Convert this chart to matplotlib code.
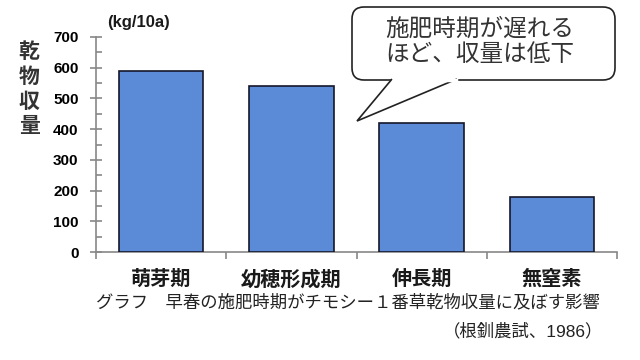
import matplotlib
matplotlib.use("Agg")
import matplotlib.pyplot as plt
from matplotlib.patches import FancyBboxPatch, Polygon

plt.rcParams['font.family'] = ['Liberation Sans', 'Noto Sans CJK JP', 'DejaVu Sans']

# data
stages = ['萌芽期', '幼穂形成期', '伸長期', '無窒素']
yields = [590, 542, 420, 178]

ylabel_chars = ['乾', '物', '収', '量']
unit = '(kg/10a)'
callout = ['施肥時期が遅れる', 'ほど、収量は低下']
caption = 'グラフ　早春の施肥時期がチモシー１番草乾物収量に及ぼす影響'
source = '（根釧農試、1986）'

W, H = 640, 360
fig = plt.figure(figsize=(6.4, 3.6), dpi=100)

ax = fig.add_axes([96 / W, 1 - 252 / H, (617 - 96) / W, (252 - 37) / H])
x = list(range(len(stages)))
ax.bar(x, yields, width=0.65, color='#5b8bd6', edgecolor='#15172a', linewidth=1.2, zorder=3)

ax.set_xlim(-0.5, len(stages) - 0.5)
ax.set_ylim(0, 700)
ax.set_yticks(range(0, 701, 100))
ax.set_yticks(range(50, 700, 100), minor=True)
ax.set_xticks([i - 0.5 for i in range(len(stages) + 1)])
ax.set_xticklabels([])
for s in ['top', 'right']:
    ax.spines[s].set_visible(False)
for s in ['left', 'bottom']:
    ax.spines[s].set_color('#888888')
    ax.spines[s].set_linewidth(1.2)
ax.tick_params(axis='y', which='major', direction='inout', length=9, width=1.2,
               color='#888888', labelsize=11, pad=8)
ax.tick_params(axis='y', which='minor', direction='in', length=4, width=1.2, color='#888888')
ax.tick_params(axis='x', which='major', direction='out', length=5, width=1.2, color='#888888')
for lbl in ax.get_yticklabels():
    lbl.set_fontweight('bold')

for xi, name in zip(x, stages):
    ax.text(xi, -0.127, name, transform=ax.get_xaxis_transform(), ha='center', va='center',
            fontsize=14.5, fontweight='bold', color='#1a1a1a')

# overlay in pixel coordinates for annotations
ov = fig.add_axes([0, 0, 1, 1], facecolor='none')
ov.set_xlim(0, W)
ov.set_ylim(H, 0)
ov.axis('off')

for ch, yy in zip(ylabel_chars, [52, 77, 102, 126]):
    ov.text(29, yy, ch, ha='center', va='center', fontsize=15, fontweight='bold', color='#333333')
ov.text(107, 22, unit, ha='left', va='center', fontsize=12, fontweight='bold', color='#1a1a1a')

# speech bubble
box = FancyBboxPatch((352, 7), 263, 73, boxstyle='round,pad=0,rounding_size=12',
                     facecolor='white', edgecolor='#222222', linewidth=1.2, zorder=5)
ov.add_patch(box)
tail = Polygon([(392, 79), (357, 121), (457, 79)], closed=False,
               facecolor='white', edgecolor='#222222', linewidth=1.2, zorder=6)
ov.add_patch(tail)
ov.plot([393.5, 455.5], [80, 80], color='white', linewidth=2.5, zorder=7)
ov.text(385, 30, callout[0], ha='left', va='center', fontsize=17, color='#333333', zorder=8)
ov.text(385, 55, callout[1], ha='left', va='center', fontsize=17, color='#333333', zorder=8)

ov.text(96, 302, caption, ha='left', va='center', fontsize=12.5, color='#222222')
ov.text(603, 331, source, ha='right', va='center', fontsize=12.5, color='#222222')

fig.savefig('out.png', dpi=100)
